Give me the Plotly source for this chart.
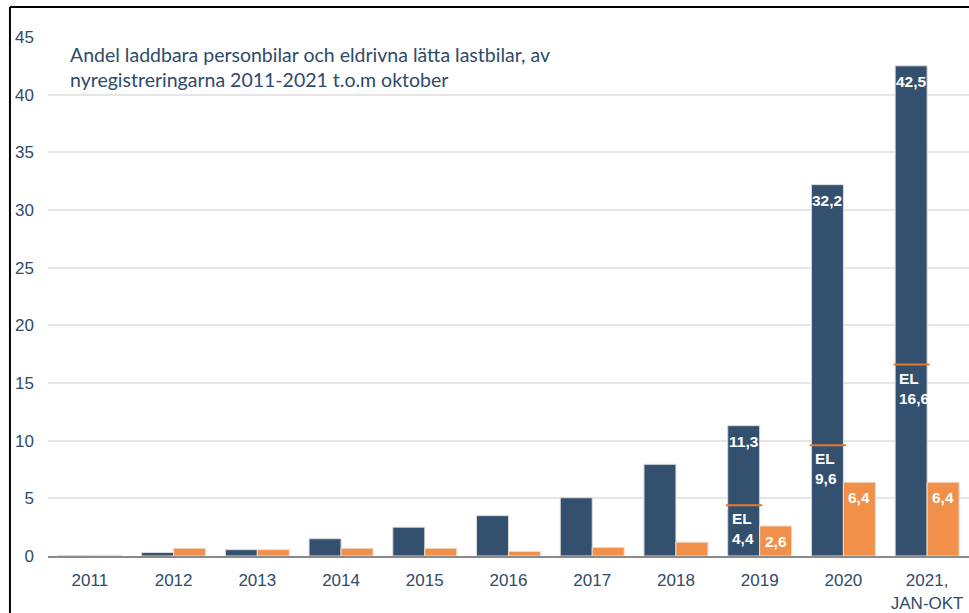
import plotly.graph_objects as go

categories = ["2011", "2012", "2013", "2014", "2015", "2016", "2017", "2018", "2019", "2020", "2021,<br>JAN-OKT"]
laddbara = [0.05, 0.3, 0.55, 1.5, 2.5, 3.5, 5.05, 7.95, 11.3, 32.2, 42.5]
lastbilar = [0.05, 0.67, 0.55, 0.67, 0.67, 0.4, 0.75, 1.2, 2.6, 6.4, 6.4]
el_values = [None, None, None, None, None, None, None, None, 4.4, 9.6, 16.6]
laddbara_labels = ["", "", "", "", "", "", "", "", "11,3", "32,2", "42,5"]
lastbilar_labels = ["", "", "", "", "", "", "", "", "2,6", "6,4", "6,4"]
el_labels = ["", "", "", "", "", "", "", "", "4,4", "9,6", "16,6"]
title_text = "Andel laddbara personbilar och eldrivna lätta lastbilar, av<br>nyregistreringarna 2011-2021 t.o.m oktober"

DARK = "#34506F"
ORANGE = "#F0904A"
NAVY = "#2F4A6A"
BARGAP = 0.236
BW = (1 - BARGAP) / 2

fig = go.Figure()
fig.add_bar(x=categories, y=laddbara, marker=dict(color=DARK, line=dict(color="#dcdcdc", width=1)), name="Laddbara")
fig.add_bar(x=categories, y=lastbilar, marker=dict(color=ORANGE, line=dict(color="#f4dccb", width=1)), name="Lätta lastbilar")

annotations = []
shapes = []
lbl_font = dict(family="Liberation Sans, Arial", size=15.5, color="white")
for i in range(len(categories)):
    if laddbara_labels[i]:
        annotations.append(dict(x=i - BW / 2, y=laddbara[i], xref="x", yref="y", text="<b>%s</b>" % laddbara_labels[i],
                                showarrow=False, yanchor="top", xanchor="center", yshift=-5, font=lbl_font))
    if lastbilar_labels[i]:
        annotations.append(dict(x=i + BW / 2, y=lastbilar[i], xref="x", yref="y", text="<b>%s</b>" % lastbilar_labels[i],
                                showarrow=False, yanchor="top", xanchor="center", yshift=-5, font=lbl_font))
    if el_values[i] is not None:
        shapes.append(dict(type="line", xref="x", yref="y", x0=i - BW - 0.02, x1=i + 0.03, y0=el_values[i], y1=el_values[i],
                           line=dict(color="#E8782E", width=2)))
        annotations.append(dict(x=i - BW, y=el_values[i], xref="x", yref="y", text="<b>EL<br>%s</b>" % el_labels[i],
                                showarrow=False, yanchor="top", xanchor="left", xshift=2, yshift=-3, align="left", font=lbl_font))

annotations.append(dict(x=0.0217, y=0.993, xref="paper", yref="paper", text=title_text, showarrow=False,
                        xanchor="left", yanchor="top", align="left",
                        font=dict(family="Lato, Open Sans", size=19.5, color=NAVY)))

# frame (left and top edges only)
shapes.append(dict(type="line", xref="paper", yref="paper", x0=-0.0413, x1=-0.0413, y0=-0.2, y1=1.0578,
                   line=dict(color="black", width=2)))
shapes.append(dict(type="line", xref="paper", yref="paper", x0=-0.0413, x1=1.0, y0=1.0578, y1=1.0578,
                   line=dict(color="black", width=2)))

fig.update_layout(
    width=969, height=613,
    margin=dict(l=48, r=0, t=37, b=57),
    barmode="group", bargap=BARGAP, bargroupgap=0,
    plot_bgcolor="white", paper_bgcolor="white",
    showlegend=False,
    annotations=annotations, shapes=shapes,
    font=dict(family="Liberation Sans, Arial", size=17, color=NAVY),
)
fig.update_yaxes(range=[0, 45], tick0=0, dtick=5, showgrid=True, gridcolor="#e6e6e6", gridwidth=2,
                 zeroline=False, showline=False, mirror=False, ticklabelstandoff=13,
                 tickfont=dict(family="Liberation Sans, Arial", size=17, color=NAVY))
fig.update_xaxes(showline=True, linecolor="#8a8a8a", linewidth=2, showgrid=False, mirror=False,
                 tickfont=dict(family="Liberation Sans, Arial", size=17, color=NAVY), ticklabelstandoff=8)

fig.write_html("out.html", config={"displayModeBar": False},
               post_script="document.body.style.margin='0';document.body.style.overflow='hidden';"
                           "document.documentElement.style.overflow='hidden';")
